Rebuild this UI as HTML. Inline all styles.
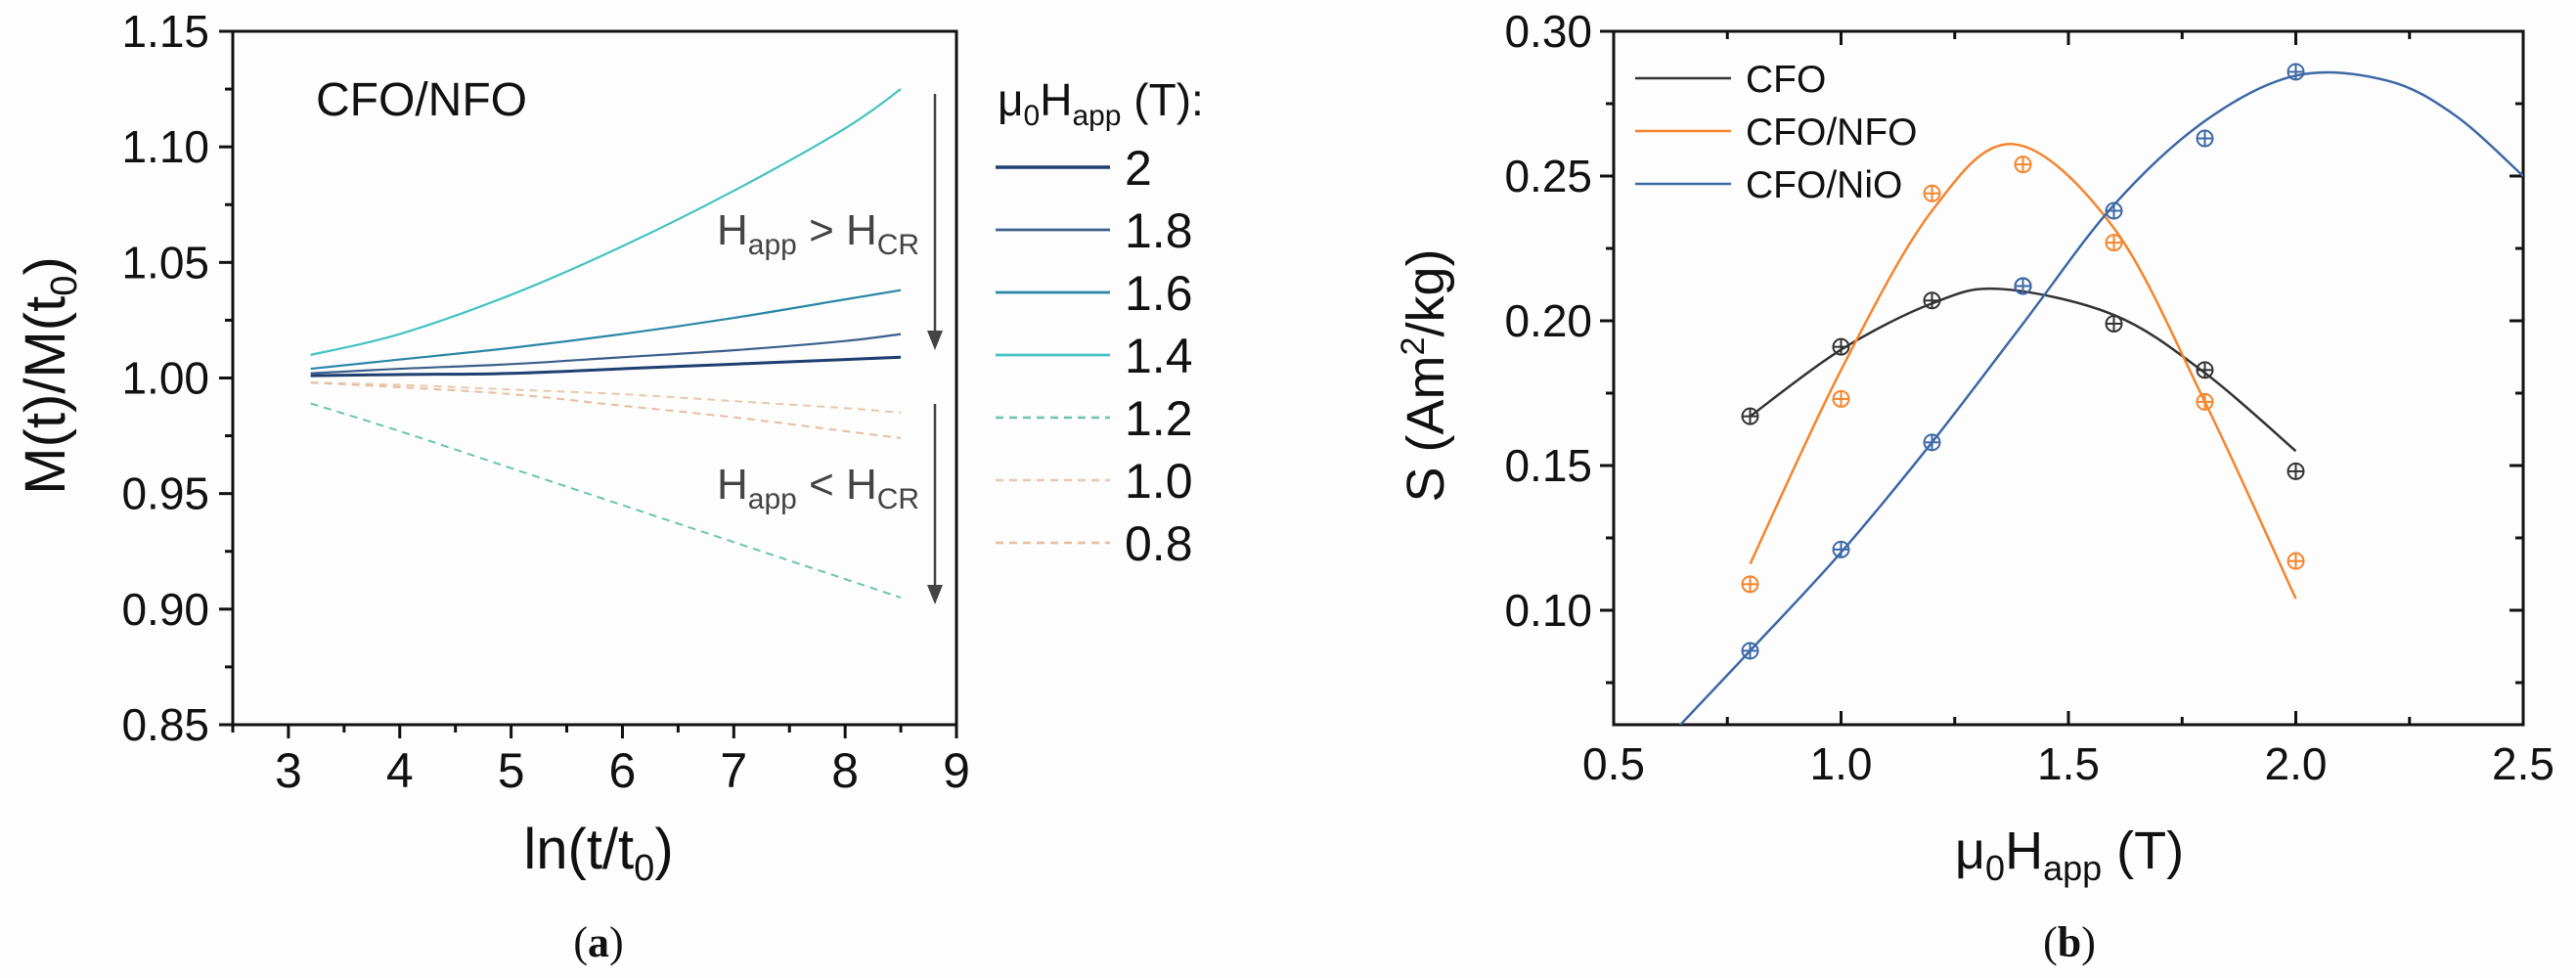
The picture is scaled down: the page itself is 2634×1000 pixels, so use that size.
<!DOCTYPE html>
<html><head><meta charset="utf-8"><style>
html,body{margin:0;padding:0;background:#fdfdfd;}
svg{display:block;font-family:"Liberation Sans",sans-serif;}
</style></head><body>
<svg id="fig" width="2634" height="1000" viewBox="0 0 2634 1000" xmlns="http://www.w3.org/2000/svg"></svg>
<script>
// ---- Panel (a) data ----
const aX = [3.2, 4, 5, 6, 7, 8, 8.5];
const aSeriesNames = ["2", "1.8", "1.6", "1.4", "1.2", "1.0", "0.8"];
const aS2  = [1.001, 1.0015, 1.002, 1.004, 1.006, 1.008, 1.009];
const aS18 = [1.002, 1.004, 1.006, 1.009, 1.012, 1.016, 1.019];
const aS16 = [1.004, 1.008, 1.013, 1.019, 1.026, 1.034, 1.038];
const aS14 = [1.010, 1.019, 1.036, 1.057, 1.081, 1.108, 1.125];
const aS12 = [0.989, 0.977, 0.961, 0.945, 0.929, 0.913, 0.905];
const aS10 = [0.998, 0.997, 0.995, 0.993, 0.990, 0.987, 0.985];
const aS08 = [0.998, 0.996, 0.993, 0.988, 0.983, 0.977, 0.974];
const aXTicks = [3, 4, 5, 6, 7, 8, 9];
const aYTicks = [0.85, 0.90, 0.95, 1.00, 1.05, 1.10, 1.15];

// ---- Panel (b) data ----
const bX = [0.8, 1.0, 1.2, 1.4, 1.6, 1.8, 2.0];
const bCFO = [0.167, 0.191, 0.207, 0.212, 0.199, 0.183, 0.148];
const bNFO = [0.109, 0.173, 0.244, 0.254, 0.227, 0.172, 0.117];
const bNiO = [0.086, 0.121, 0.158, 0.212, 0.238, 0.263, 0.286];
const fitCFOx = [0.8, 1.0, 1.2, 1.35, 1.6, 1.8, 2.0];
const fitCFOy = [0.167, 0.190, 0.206, 0.211, 0.202, 0.182, 0.155];
const fitNFOx = [0.8, 1.0, 1.2, 1.38, 1.6, 1.8, 2.0];
const fitNFOy = [0.116, 0.183, 0.238, 0.261, 0.232, 0.172, 0.104];
const fitNiOx = [0.644, 0.8, 1.0, 1.2, 1.4, 1.6, 1.8, 2.0, 2.2, 2.35, 2.5];
const fitNiOy = [0.060, 0.086, 0.120, 0.158, 0.199, 0.240, 0.269, 0.2847, 0.283, 0.271, 0.250];
const bXTicks = [0.5, 1.0, 1.5, 2.0, 2.5];
const bYTicks = [0.10, 0.15, 0.20, 0.25, 0.30];

const NS = "http://www.w3.org/2000/svg";
const svg = document.getElementById("fig");
function el(tag, attrs, parent, text) {
  const e = document.createElementNS(NS, tag);
  for (const k in attrs) e.setAttribute(k, attrs[k]);
  if (text !== undefined) e.textContent = text;
  (parent || svg).appendChild(e);
  return e;
}
function smooth(pts) {
  let d = "M" + pts[0][0] + "," + pts[0][1];
  for (let i = 0; i < pts.length - 1; i++) {
    const p0 = pts[Math.max(0, i - 1)], p1 = pts[i], p2 = pts[i + 1], p3 = pts[Math.min(pts.length - 1, i + 2)];
    const c1x = p1[0] + (p2[0] - p0[0]) / 6, c1y = p1[1] + (p2[1] - p0[1]) / 6;
    const c2x = p2[0] - (p3[0] - p1[0]) / 6, c2y = p2[1] - (p3[1] - p1[1]) / 6;
    d += " C" + c1x + "," + c1y + " " + c2x + "," + c2y + " " + p2[0] + "," + p2[1];
  }
  return d;
}

// ===== Panel (a) =====
const aL = 238, aR = 978, aT = 32, aB = 741;
const ax = v => aL + (v - 2.5) / 6.5 * (aR - aL);
const ay = v => aB - (v - 0.85) / 0.30 * (aB - aT);
const gA = el("g", {});


const frameA = el("rect", {x: aL, y: aT, width: aR - aL, height: aB - aT, fill: "none", stroke: "#111", "stroke-width": 3}, gA);


for (let i = 0; i <= 12; i++) {
  const v = 0.85 + i * 0.025; const major = i % 2 === 0;
  el("line", {x1: aL - (major ? 14 : 8), x2: aL, y1: ay(v), y2: ay(v), stroke: "#111", "stroke-width": 3}, gA);
}
for (let v = 2.5; v <= 9.001; v += 0.5) {
  const major = Math.abs(v - Math.round(v)) < 0.01;
  el("line", {x1: ax(v), x2: ax(v), y1: aB, y2: aB + (major ? 14 : 8), stroke: "#111", "stroke-width": 3}, gA);
}
aYTicks.forEach(v => {
  const t = el("text", {x: 214, y: ay(v) + 16, "font-size": 46, "text-anchor": "end", fill: "#111"}, gA, v.toFixed(2));
  
  
});
aXTicks.forEach(v => {
  const t = el("text", {x: ax(v), y: 805, "font-size": 50, "text-anchor": "middle", fill: "#111"}, gA, String(v));
  
  
});
const aSeries = [aS2, aS18, aS16, aS14, aS12, aS10, aS08];
const aColors = ["#1f3f70", "#3d5f8c", "#2b86a6", "#45c2c2", "#6cc4ae", "#e9c9ab", "#e6bda0"];
const aWidths = [3, 2.2, 2.2, 2.2, 2, 2, 2];
const aDash = [null, null, null, null, "8,6", "8,6", "8,6"];
aSeries.forEach((s, i) => {
  const p = el("path", {d: smooth(aX.map((x, j) => [ax(x), ay(s[j])])), fill: "none", stroke: aColors[i], "stroke-width": aWidths[i]}, gA);
  if (aDash[i]) p.setAttribute("stroke-dasharray", aDash[i]);
  
  
});
const cfoLabel = el("text", {x: 323, y: 118, "font-size": 48, fill: "#111"}, gA, "CFO/NFO");


const ann1 = el("text", {x: 733, y: 250, "font-size": 44, fill: "#444"}, gA);


ann1.innerHTML = 'H<tspan font-size="30" dy="10">app</tspan><tspan dy="-10"> &gt; H</tspan><tspan font-size="30" dy="10">CR</tspan>';
const ann2 = el("text", {x: 733, y: 510, "font-size": 44, fill: "#444"}, gA);


ann2.innerHTML = 'H<tspan font-size="30" dy="10">app</tspan><tspan dy="-10"> &lt; H</tspan><tspan font-size="30" dy="10">CR</tspan>';
[[96, 358], [413, 618]].forEach((r, i) => {
  const g = el("g", {}, gA);
  
  
  el("line", {x1: 956, x2: 956, y1: r[0], y2: r[1] - 18, stroke: "#444", "stroke-width": 2.5}, g);
  el("polygon", {points: "948," + (r[1] - 20) + " 964," + (r[1] - 20) + " 956," + r[1], fill: "#444"}, g);
});
const legA = el("g", {}, gA);


const legTitle = el("text", {x: 1020, y: 118, "font-size": 46, fill: "#111"}, legA);
legTitle.innerHTML = 'μ<tspan font-size="30" dy="10">0</tspan><tspan dy="-10">H</tspan><tspan font-size="30" dy="10">app</tspan><tspan dy="-10"> (T):</tspan>';


aSeriesNames.forEach((n, i) => {
  const y = 171 + i * 64;
  const g = el("g", {}, legA);
  
  
  const l = el("line", {x1: 1018, x2: 1135, y1: y, y2: y, stroke: aColors[i], "stroke-width": aWidths[i] + 0.5}, g);
  if (aDash[i]) l.setAttribute("stroke-dasharray", "8,6");
  el("text", {x: 1150, y: y + 18, "font-size": 50, fill: "#111"}, g, n);
});
const yTitleA = el("text", {transform: "translate(66,384) rotate(-90)", "font-size": 58, "text-anchor": "middle", fill: "#111"}, gA);
yTitleA.innerHTML = 'M(t)/M(t<tspan font-size="38" dy="12">0</tspan><tspan dy="-12">)</tspan>';


const xTitleA = el("text", {x: 612, y: 888, "font-size": 58, "text-anchor": "middle", fill: "#111"}, gA);
xTitleA.innerHTML = 'ln(t/t<tspan font-size="38" dy="12">0</tspan><tspan dy="-12">)</tspan>';


const capA = el("text", {x: 612, y: 978, "font-size": 44, "text-anchor": "middle", fill: "#111", "font-family": "Liberation Serif, serif"}, gA);
capA.innerHTML = '(<tspan font-weight="bold">a</tspan>)';



// ===== Panel (b) =====
const bL = 1650, bR = 2580, bT = 32, bB = 741;
const bx = v => bL + (v - 0.5) / 2.0 * (bR - bL);
const by = v => bT + (0.30 - v) / 0.05 * 148;
const gB = el("g", {});


const clip = el("clipPath", {id: "clipB"}, gB);
el("rect", {x: bL, y: bT, width: bR - bL, height: bB - bT}, clip);
const frameB = el("rect", {x: bL, y: bT, width: bR - bL, height: bB - bT, fill: "none", stroke: "#111", "stroke-width": 3}, gB);


for (let i = 0; i <= 9; i++) {
  const v = 0.30 - i * 0.025; const y = by(v); if (y > bB) break;
  const major = i % 2 === 0;
  el("line", {x1: bL - (major ? 14 : 8), x2: bL, y1: y, y2: y, stroke: "#111", "stroke-width": 3}, gB);
  el("line", {x1: bR, x2: bR - (major ? 14 : 8), y1: y, y2: y, stroke: "#111", "stroke-width": 3}, gB);
}
for (let i = 0; i <= 8; i++) {
  const x = bx(0.5 + i * 0.25); const major = i % 2 === 0;
  el("line", {x1: x, x2: x, y1: bB, y2: bB - (major ? 14 : 8), stroke: "#111", "stroke-width": 3}, gB);
  el("line", {x1: x, x2: x, y1: bT, y2: bT + (major ? 14 : 8), stroke: "#111", "stroke-width": 3}, gB);
}
bYTicks.forEach(v => {
  const t = el("text", {x: 1628, y: by(v) + 16, "font-size": 46, "text-anchor": "end", fill: "#111"}, gB, v.toFixed(2));
  
  
});
bXTicks.forEach(v => {
  const t = el("text", {x: bx(v), y: 797, "font-size": 46, "text-anchor": "middle", fill: "#111"}, gB, v.toFixed(1));
  
  
});
const bNames = ["CFO", "CFO/NFO", "CFO/NiO"];
const bColors = ["#333333", "#f5842c", "#3d68a6"];
const fits = [[fitCFOx, fitCFOy], [fitNFOx, fitNFOy], [fitNiOx, fitNiOy]];
const pts = [bCFO, bNFO, bNiO];
fits.forEach((f, i) => {
  const p = el("path", {d: smooth(f[0].map((x, j) => [bx(x), by(f[1][j])])), fill: "none", stroke: bColors[i], "stroke-width": 2.5, "clip-path": "url(#clipB)"}, gB);
  
  
});
pts.forEach((s, i) => {
  s.forEach((v, j) => {
    const g = el("g", {stroke: bColors[i], "stroke-width": 2, fill: "none"}, gB);
    
    
    const cx = bx(bX[j]), cy = by(v);
    el("circle", {cx: cx, cy: cy, r: 8}, g);
    el("line", {x1: cx - 8, x2: cx + 8, y1: cy, y2: cy}, g);
    el("line", {x1: cx, x2: cx, y1: cy - 8, y2: cy + 8}, g);
  });
});
const legB = el("g", {}, gB);


bNames.forEach((n, i) => {
  const y = 80 + i * 54;
  const g = el("g", {}, legB);
  
  
  el("line", {x1: 1672, x2: 1770, y1: y, y2: y, stroke: bColors[i], "stroke-width": 2.5}, g);
  el("text", {x: 1785, y: y + 14, "font-size": 39, fill: "#111"}, g, n);
});
const yTitleB = el("text", {transform: "translate(1476,384) rotate(-90)", "font-size": 54, "text-anchor": "middle", fill: "#111"}, gB);
yTitleB.innerHTML = 'S  (Am<tspan font-size="34" dy="-20">2</tspan><tspan dy="20">/kg)</tspan>';


const xTitleB = el("text", {x: 2116, y: 888, "font-size": 54, "text-anchor": "middle", fill: "#111"}, gB);
xTitleB.innerHTML = 'μ<tspan font-size="36" dy="12">0</tspan><tspan dy="-12">H</tspan><tspan font-size="36" dy="12">app</tspan><tspan dy="-12"> (T)</tspan>';


const capB = el("text", {x: 2116, y: 978, "font-size": 44, "text-anchor": "middle", fill: "#111", "font-family": "Liberation Serif, serif"}, gB);
capB.innerHTML = '(<tspan font-weight="bold">b</tspan>)';


</script>
</body></html>
